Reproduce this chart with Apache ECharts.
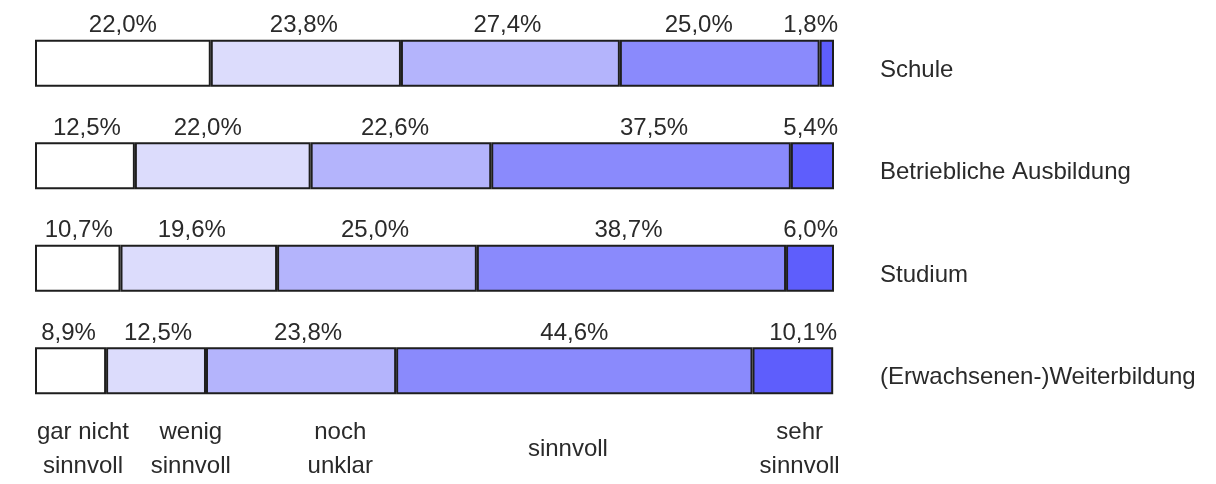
<!DOCTYPE html>
<html>
<head>
<meta charset="utf-8">
<style>
    html, body { margin: 0; padding: 0; background: #fff; }
    #chart { width: 1216px; height: 484px; }
</style>
<script src="https://cdn.jsdelivr.net/npm/echarts@6/dist/echarts.min.js"></script>
</head>
<body>
<div id="chart"></div>
<script>
// Bereiche (von oben nach unten)
var categories = ['Schule', 'Betriebliche Ausbildung', 'Studium', '(Erwachsenen-)Weiterbildung'];

// Antwortstufen
var levels = ['gar nicht\nsinnvoll', 'wenig\nsinnvoll', 'noch\nunklar', 'sinnvoll', 'sehr\nsinnvoll'];

// Anteile in % je Stufe, Reihenfolge wie categories
var garNicht   = [22.0, 12.5, 10.7, 8.9];
var wenig      = [23.8, 22.0, 19.6, 12.5];
var nochUnklar = [27.4, 22.6, 25.0, 23.8];
var sinnvoll   = [25.0, 37.5, 38.7, 44.6];
var sehr       = [1.8, 5.4, 6.0, 10.1];

// wo die Stufen-Beschriftung unten steht (Wert auf der x-Achse)
var levelAt = [6, 19.5, 38.2, 66.7, 95.7];

(function () {
    var colors = ['#ffffff', '#dcdcfc', '#b4b4fc', '#8a8afc', '#5e5efc'];
    var values = [garNicht, wenig, nochUnklar, sinnvoll, sehr];
    var font = "'Liberation Sans', Arial, sans-serif";

    // kleine Verschiebungen der Prozentwerte wie im Original (px, [stufe][bereich])
    var nudge = [
        [0, 2, 1, -2],
        [-2, -15, -7, 2],
        [-3, -6, -2, 7],
        [-21, 13, -3, 0],
        [0, 0, 0, 0]
    ];

    function pct(v) {
        return v.toFixed(1).replace('.', ',') + '%';
    }

    var series = values.map(function (arr, i) {
        var last = i === values.length - 1;
        var data = arr.map(function (v, j) {
            if (last || !nudge[i][j]) return v;
            return { value: v, label: { offset: [nudge[i][j], 0] } };
        });
        return {
            name: levels[i].replace('\n', ' '),
            type: 'bar',
            stack: 'total',
            barWidth: 47,
            data: data,
            itemStyle: {
                color: colors[i],
                borderColor: '#1e1e1e',
                borderWidth: 2
            },
            label: last ? {   // letzte Stufe ist schmal -> rechtsbündig am Balkenende
                show: true,
                position: ['100%', 0],
                align: 'right',
                verticalAlign: 'bottom',
                offset: [4, -2],
                formatter: function (p) { return pct(p.value); },
                color: '#2a2a2a',
                fontSize: 24,
                fontFamily: font
            } : {
                show: true,
                position: 'top',
                distance: 2,
                formatter: function (p) { return pct(p.value); },
                color: '#2a2a2a',
                fontSize: 24,
                fontFamily: font
            }
        };
    });

    var myChart = echarts.init(document.getElementById('chart'));
    myChart.setOption({
        animation: false,
        grid: {
            left: 35,
            right: 382,
            top: 12,
            bottom: 62,
            containLabel: false,
            outerBoundsMode: 'none'
        },
        xAxis: {
            type: 'value',
            min: 0,
            max: 100,
            splitLine: { show: false },
            axisLine: { show: false },
            axisTick: { show: false },
            axisLabel: {
                customValues: levelAt,
                margin: 27,
                verticalAlign: 'middle',
                lineHeight: 34,
                color: '#2a2a2a',
                fontSize: 24,
                fontFamily: font,
                formatter: function (v) {
                    var idx = levelAt.indexOf(v);
                    return idx >= 0 ? levels[idx] : '';
                }
            }
        },
        yAxis: {
            type: 'category',
            data: categories,
            inverse: true,
            position: 'right',
            axisLine: { show: false },
            axisTick: { show: false },
            axisLabel: {
                margin: 46,
                align: 'left',
                verticalAlign: 'top',
                lineHeight: 14,
                color: '#2a2a2a',
                fontSize: 24,
                fontFamily: font
            }
        },
        series: series
    });
})();
</script>
</body>
</html>
